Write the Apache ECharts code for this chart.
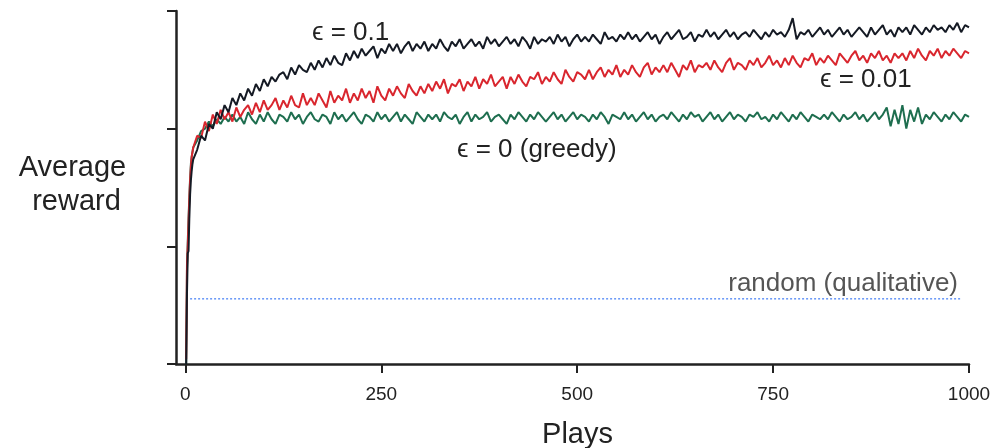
<!DOCTYPE html>
<html>
<head>
<meta charset="utf-8">
<script src="https://cdn.jsdelivr.net/npm/echarts@6/dist/echarts.min.js"></script>
<style>
  html, body { margin: 0; padding: 0; background: #fff; }
  #chart { width: 1006px; height: 448px; }
</style>
</head>
<body>
<div id="chart"></div>
<script>
// plays: 1..10, then every 5 plays up to 1000
var earlyPlays = [1, 2, 3, 4, 5, 6, 7, 8, 9, 10];
var latePlays = [];
for (var p = 15; p <= 1000; p += 5) latePlays.push(p);
var plays = earlyPlays.concat(latePlays);

var xTicks = [0, 250, 500, 750, 1000];

// epsilon = 0.1 (black)
var eps01 = [
  0.00, 0.30, 0.47, 0.48, 0.62, 0.72, 0.78, 0.82, 0.85, 0.87,
  0.91, 0.97, 0.95, 1.02, 1.00, 1.07, 1.04, 1.10, 1.07, 1.13,
  1.10, 1.15, 1.12, 1.17, 1.14, 1.19, 1.16, 1.21, 1.18, 1.22,
  1.20, 1.23, 1.24, 1.21, 1.26, 1.23, 1.27, 1.25, 1.24, 1.28,
  1.25, 1.29, 1.26, 1.30, 1.27, 1.31, 1.28, 1.27, 1.32, 1.29,
  1.33, 1.30, 1.34, 1.31, 1.33, 1.35, 1.30, 1.34, 1.32, 1.36,
  1.33, 1.36, 1.32, 1.35, 1.37, 1.33, 1.36, 1.34, 1.37, 1.33,
  1.36, 1.34, 1.38, 1.35, 1.33, 1.37, 1.35, 1.38, 1.34, 1.36,
  1.38, 1.35, 1.37, 1.34, 1.39, 1.36, 1.38, 1.35, 1.37, 1.39,
  1.36, 1.38, 1.35, 1.39, 1.37, 1.34, 1.39, 1.36, 1.38, 1.37,
  1.39, 1.36, 1.40, 1.37, 1.39, 1.35, 1.38, 1.40, 1.37, 1.39,
  1.37, 1.40, 1.38, 1.36, 1.41, 1.38, 1.39, 1.37, 1.40, 1.38,
  1.41, 1.38, 1.40, 1.37, 1.39, 1.41, 1.38, 1.40, 1.36, 1.39,
  1.41, 1.38, 1.40, 1.42, 1.38, 1.39, 1.41, 1.37, 1.40, 1.39,
  1.42, 1.39, 1.41, 1.38, 1.40, 1.42, 1.39, 1.41, 1.38, 1.40,
  1.41, 1.39, 1.42, 1.40, 1.38, 1.41, 1.39, 1.42, 1.40, 1.41,
  1.39, 1.42, 1.47, 1.38, 1.41, 1.40, 1.42, 1.39, 1.41, 1.43,
  1.40, 1.42, 1.39, 1.41, 1.43, 1.40, 1.42, 1.39, 1.41, 1.43,
  1.41, 1.39, 1.43, 1.40, 1.42, 1.44, 1.40, 1.42, 1.39, 1.43,
  1.41, 1.43, 1.40, 1.44, 1.42, 1.40, 1.43, 1.41, 1.44, 1.42,
  1.43, 1.41, 1.44, 1.42, 1.45, 1.41, 1.44, 1.43
];

// epsilon = 0.01 (red)
var eps001 = [
  0.02, 0.42, 0.50, 0.60, 0.70, 0.78, 0.84, 0.88, 0.90, 0.92,
  0.97, 0.96, 1.03, 0.99, 1.06, 1.02, 1.08, 1.04, 1.07, 1.03,
  1.09, 1.05, 1.08, 1.10, 1.06, 1.11, 1.07, 1.12, 1.08, 1.10,
  1.13, 1.08, 1.12, 1.09, 1.14, 1.10, 1.09, 1.15, 1.10, 1.13,
  1.10, 1.15, 1.12, 1.09, 1.16, 1.11, 1.14, 1.12, 1.17, 1.11,
  1.15, 1.12, 1.17, 1.13, 1.16, 1.11, 1.18, 1.14, 1.12, 1.17,
  1.14, 1.18, 1.15, 1.13, 1.19, 1.16, 1.14, 1.18, 1.15, 1.19,
  1.16, 1.20, 1.17, 1.21, 1.15, 1.19, 1.18, 1.21, 1.16, 1.20,
  1.18, 1.22, 1.17, 1.21, 1.19, 1.23, 1.18, 1.20, 1.22, 1.17,
  1.22, 1.19, 1.23, 1.20, 1.18, 1.22, 1.21, 1.24, 1.19, 1.22,
  1.20, 1.24, 1.21, 1.19, 1.25, 1.22, 1.20, 1.24, 1.23, 1.21,
  1.25, 1.21, 1.24, 1.26, 1.22, 1.25, 1.23, 1.27, 1.22, 1.25,
  1.23, 1.27, 1.24, 1.22, 1.26, 1.28, 1.23, 1.26, 1.24, 1.27,
  1.24, 1.28, 1.25, 1.22, 1.27, 1.25, 1.29, 1.24, 1.27, 1.26,
  1.28, 1.25, 1.29, 1.26, 1.24, 1.28, 1.30, 1.25, 1.28, 1.27,
  1.25, 1.29, 1.27, 1.30, 1.26, 1.28, 1.31, 1.27, 1.29, 1.26,
  1.30, 1.27, 1.31, 1.28, 1.26, 1.30, 1.29, 1.32, 1.27, 1.30,
  1.28, 1.31, 1.29, 1.27, 1.32, 1.30, 1.28, 1.31, 1.33, 1.29,
  1.31, 1.28, 1.32, 1.30, 1.33, 1.29, 1.31, 1.28, 1.32, 1.30,
  1.32, 1.29, 1.33, 1.30, 1.34, 1.31, 1.29, 1.33, 1.31, 1.34,
  1.30, 1.33, 1.31, 1.34, 1.32, 1.30, 1.33, 1.32
];

// epsilon = 0, greedy (green)
var eps0 = [
  0.00, 0.40, 0.52, 0.62, 0.71, 0.79, 0.85, 0.88, 0.90, 0.92,
  0.95, 0.99, 1.00, 1.03, 1.01, 1.04, 1.02, 1.05, 1.03, 1.06,
  1.03, 1.05, 1.02, 1.07, 1.04, 1.02, 1.06, 1.03, 1.07, 1.04,
  1.02, 1.06, 1.05, 1.03, 1.07, 1.04, 1.06, 1.02, 1.05, 1.07,
  1.04, 1.03, 1.06, 1.05, 1.02, 1.07, 1.04, 1.06, 1.03, 1.05,
  1.07, 1.04, 1.02, 1.06, 1.05, 1.03, 1.07, 1.04, 1.06, 1.03,
  1.05, 1.07, 1.03, 1.06, 1.04, 1.02, 1.07, 1.05, 1.03, 1.06,
  1.04, 1.06, 1.03, 1.07, 1.05, 1.04, 1.06, 1.02, 1.05, 1.07,
  1.03, 1.06, 1.04, 1.05, 1.07, 1.03, 1.05, 1.06, 1.04, 1.02,
  1.06, 1.04, 1.07, 1.05, 1.03, 1.06, 1.04, 1.07, 1.05, 1.03,
  1.05, 1.07, 1.04, 1.06, 1.03, 1.05, 1.07, 1.04, 1.06, 1.05,
  1.03, 1.06, 1.04, 1.07, 1.05, 1.02, 1.06, 1.05, 1.04, 1.07,
  1.04, 1.06, 1.03, 1.05, 1.07, 1.04, 1.06, 1.03, 1.05, 1.06,
  1.04, 1.07, 1.05, 1.03, 1.06, 1.04, 1.07, 1.05, 1.06, 1.03,
  1.05, 1.07, 1.04, 1.06, 1.03, 1.05, 1.07, 1.04, 1.06, 1.05,
  1.03, 1.06, 1.05, 1.07, 1.04, 1.05, 1.03, 1.06, 1.04, 1.07,
  1.05, 1.03, 1.06, 1.04, 1.07, 1.05, 1.03, 1.06, 1.05, 1.04,
  1.06, 1.04, 1.07, 1.05, 1.03, 1.06, 1.04, 1.05, 1.07, 1.04,
  1.06, 1.03, 1.05, 1.07, 1.04, 1.06, 1.09, 1.01, 1.08, 1.02,
  1.10, 1.00, 1.08, 1.03, 1.09, 1.02, 1.06, 1.04, 1.07, 1.05,
  1.03, 1.06, 1.04, 1.07, 1.05, 1.03, 1.06, 1.05
];

// random (qualitative) reference level
var randomPlays = [6, 991];
var randomLevel = [0.277, 0.277];

function pairs(xs, ys) {
  var out = [];
  for (var i = 0; i < xs.length; i++) out.push([xs[i], ys[i]]);
  return out;
}

var FONT = '"Liberation Sans", Arial, "DejaVu Sans", sans-serif';
var INK = '#222';

window.onload = function() {
  var chart = echarts.init(document.getElementById('chart'), null, { renderer: 'canvas' });

  var option = {
    animation: false,
    backgroundColor: '#fff',
    grid: { left: 176, right: 37, top: 11, bottom: 84, containLabel: false, outerBoundsMode: 'none' },
    xAxis: {
      type: 'value',
      min: -12,
      max: 1000,
      axisLine: { show: true, onZero: false, lineStyle: { color: INK, width: 2.5 } },
      axisTick: { show: true, customValues: xTicks, length: 9, lineStyle: { color: INK, width: 2 } },
      axisLabel: {
        show: true, customValues: xTicks, margin: 21, fontSize: 19, color: INK, fontFamily: FONT,
        formatter: function(v) { return String(v); }
      },
      splitLine: { show: false },
      name: 'Plays',
      nameLocation: 'middle',
      nameGap: 56,
      nameTextStyle: { fontSize: 29, color: INK, fontFamily: FONT, padding: [0, 0, 0, 10] }
    },
    yAxis: {
      type: 'value',
      min: 0,
      max: 1.5,
      interval: 0.5,
      axisLine: { show: true, onZero: false, lineStyle: { color: INK, width: 2.5 } },
      axisTick: { show: true, length: 9, lineStyle: { color: INK, width: 2 } },
      axisLabel: { show: false },
      splitLine: { show: false }
    },
    series: [
      {
        name: 'random',
        type: 'line',
        data: pairs(randomPlays, randomLevel),
        showSymbol: false,
        silent: true,
        lineStyle: { color: '#5b8ef6', width: 1.4, type: [2, 2] }
      },
      {
        name: 'eps0',
        type: 'line',
        data: pairs(plays, eps0),
        showSymbol: false,
        lineStyle: { color: '#1e6e4f', width: 2 }
      },
      {
        name: 'eps001',
        type: 'line',
        data: pairs(plays, eps001),
        showSymbol: false,
        lineStyle: { color: '#d9262e', width: 2 }
      },
      {
        name: 'eps01',
        type: 'line',
        data: pairs(plays, eps01),
        showSymbol: false,
        lineStyle: { color: '#151a24', width: 2 }
      }
    ],
    graphic: [
      { type: 'text', style: { text: 'Average', x: 72.5, y: 168, align: 'center', verticalAlign: 'middle', textAlign: 'center', textVerticalAlign: 'middle', font: '29px ' + FONT, fill: INK } },
      { type: 'text', style: { text: 'reward', x: 76.5, y: 202, align: 'center', verticalAlign: 'middle', textAlign: 'center', textVerticalAlign: 'middle', font: '29px ' + FONT, fill: INK } },
      { type: 'text', style: { text: '\u03f5 = 0.1', x: 312, y: 33, align: 'left', verticalAlign: 'middle', textAlign: 'left', textVerticalAlign: 'middle', font: '26px ' + FONT, fill: INK } },
      { type: 'text', style: { text: '\u03f5 = 0.01', x: 820, y: 80, align: 'left', verticalAlign: 'middle', textAlign: 'left', textVerticalAlign: 'middle', font: '26px ' + FONT, fill: INK } },
      { type: 'text', style: { text: '\u03f5 = 0 (greedy)', x: 457, y: 150, align: 'left', verticalAlign: 'middle', textAlign: 'left', textVerticalAlign: 'middle', font: '26px ' + FONT, fill: INK } },
      { type: 'text', style: { text: 'random (qualitative)', x: 958, y: 284, align: 'right', verticalAlign: 'middle', textAlign: 'right', textVerticalAlign: 'middle', font: '26px ' + FONT, fill: '#555' } }
    ]
  };

  chart.setOption(option);
};
</script>
</body>
</html>
